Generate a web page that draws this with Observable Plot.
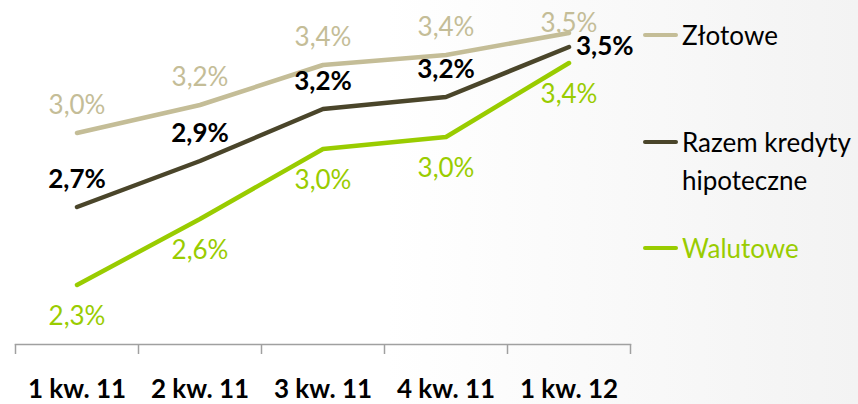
<!DOCTYPE html>
<html>
<head>
<meta charset="utf-8">
<script src="https://cdn.jsdelivr.net/npm/d3@7"></script>
<script src="https://cdn.jsdelivr.net/npm/@observablehq/plot@0.6"></script>
<style>
  html, body { margin: 0; padding: 0; }
  body { width: 858px; height: 404px; overflow: hidden; font-family: Lato, "Open Sans", sans-serif; }
  #wrap { position: relative; width: 858px; height: 404px;
    background: linear-gradient(to right, #ffffff 0%, #ffffff 45%, #f3f3f3 100%); }
  #chart svg { display: block; background: transparent; }
  .leg { position: absolute; font-size: 26px; line-height: 38px; color: #000; }
  .legline { position: absolute; width: 35px; height: 4px; border-radius: 2px; left: 643px; }
</style>
</head>
<body>
<div id="wrap">
  <div id="chart"></div>
  <div id="legend"></div>
</div>
<script>
const quarters = ["1 kw. 11", "2 kw. 11", "3 kw. 11", "4 kw. 11", "1 kw. 12"];
const zlotowe  = [3.04, 3.18, 3.38, 3.43, 3.54];
const razem    = [2.67, 2.90, 3.16, 3.22, 3.47];
const walutowe = [2.28, 2.61, 2.96, 3.02, 3.39];
const seriesNames  = ["Złotowe", "Razem kredyty hipoteczne", "Walutowe"];
const seriesColors = ["#c4bd97", "#4a452a", "#99cc00"];

const seriesValues = [zlotowe, razem, walutowe];
const rows = seriesNames.flatMap((s, k) =>
  quarters.map((q, i) => ({series: s, i, q, v: seriesValues[k][i]})));
const last = quarters.length - 1;
const fmt = v => d3.format(".1f")(v).replace(".", ",") + "%";

const byS = s => rows.filter(d => d.series === s);
const [Z, R, W] = seriesNames.map(byS);

const chart = Plot.plot({
  width: 858,
  height: 404,
  marginLeft: 15,
  marginRight: 228,
  marginTop: 0,
  marginBottom: 60,
  style: {fontFamily: "Lato, 'Open Sans', sans-serif", background: "transparent"},
  x: {type: "linear", domain: [-0.5, last + 0.5], axis: null},
  y: {domain: [1.9825, 3.7025], axis: null},
  color: {domain: seriesNames, range: seriesColors},
  marks: [
    Plot.frame({anchor: "bottom", stroke: "#a0a0a0", strokeWidth: 1.5}),
    Plot.axisX({ticks: d3.range(-0.5, last + 1, 1), tickSize: 10, tickFormat: () => "",
      label: null, stroke: "#a0a0a0", strokeWidth: 1.5}),
    Plot.axisX({ticks: d3.range(0, last + 1), tickSize: 0, tickPadding: 35, label: null,
      tickFormat: i => quarters[i], fontSize: 26, fontWeight: "bold", fill: "#000"}),
    Plot.line(rows, {x: "i", y: "v", z: "series", stroke: "series", strokeWidth: 4.5,
      strokeLinecap: "round", strokeLinejoin: "round"}),
    // Złotowe labels above
    Plot.text(Z.filter(d => d.i < last), {x: "i", y: "v", text: d => fmt(d.v), dy: -27,
      fill: seriesColors[0], fontSize: 26}),
    Plot.text(Z.filter(d => d.i === last), {x: "i", y: "v", text: d => fmt(d.v), dy: -9,
      fill: seriesColors[0], fontSize: 26}),
    // Razem labels
    Plot.text(R.filter(d => d.i < last), {x: "i", y: "v", text: d => fmt(d.v), dy: -27,
      fill: "#000", fontSize: 26, fontWeight: "bold"}),
    Plot.text(R.filter(d => d.i === last), {x: "i", y: "v", text: d => fmt(d.v), dx: 7,
      textAnchor: "start", fill: "#000", fontSize: 26, fontWeight: "bold"}),
    // Walutowe labels below
    Plot.text(W, {x: "i", y: "v", text: d => fmt(d.v), dy: 32,
      fill: seriesColors[2], fontSize: 26})
  ]
});
document.getElementById("chart").appendChild(chart);

// legend
const legend = document.getElementById("legend");
const legTops = [35, 142, 248];
const legText = [["Złotowe"], ["Razem kredyty", "hipoteczne"], ["Walutowe"]];
const legTextColor = ["#000", "#000", seriesColors[2]];
seriesNames.forEach((s, k) => {
  const ln = document.createElement("div");
  ln.className = "legline";
  ln.style.top = (legTops[k] - 2) + "px";
  ln.style.background = seriesColors[k];
  legend.appendChild(ln);
  const t = document.createElement("div");
  t.className = "leg";
  t.style.left = "682px";
  t.style.top = (legTops[k] - 19) + "px";
  t.style.color = legTextColor[k];
  t.innerHTML = legText[k].join("<br>");
  legend.appendChild(t);
});
</script>
</body>
</html>
